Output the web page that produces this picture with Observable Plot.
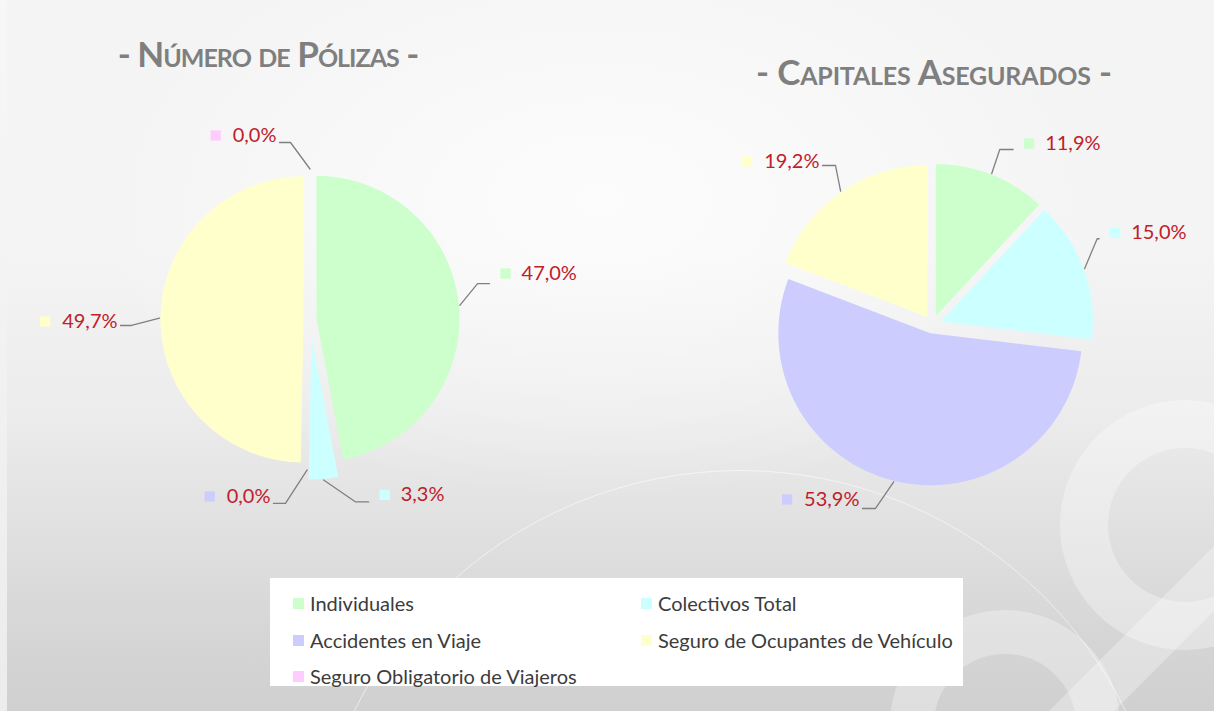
<!DOCTYPE html>
<html>
<head>
<meta charset="utf-8">
<script src="https://cdn.jsdelivr.net/npm/d3@7"></script>
<script src="https://cdn.jsdelivr.net/npm/@observablehq/plot@0.6"></script>
<style>
  html, body { margin: 0; padding: 0; }
  body { width: 1214px; height: 711px; overflow: hidden; font-family: Lato, "Open Sans", sans-serif; }
  #stage {
    position: relative; width: 1214px; height: 711px; overflow: hidden;
    background:
      radial-gradient(ellipse 520px 300px at 600px 200px, rgba(255,255,255,0.75), rgba(255,255,255,0) 100%),
      linear-gradient(to bottom, #f4f4f4 0%, #f4f4f4 35%, #ececec 58%, #e0e0e0 75%, #d5d5d5 90%, #d0d0d0 100%);
  }
  #leftstrip { position: absolute; left: 0; top: 0; width: 7px; height: 711px; background: linear-gradient(to bottom, #f7f7f7, #ececec); }
  .deco { position: absolute; border-radius: 50%; box-sizing: border-box; }
  .band { position: absolute; background: rgba(255,255,255,0.3); transform-origin: 0 0; }
  .title {
    position: absolute; text-align: center; color: #7f7f7f; font-weight: 700;
    font-variant: small-caps; font-size: 35px; line-height: 35px; white-space: nowrap;
  }
  #chart { position: absolute; left: 0; top: 0; }
  #legend { position: absolute; left: 270px; top: 578px; width: 693px; height: 108px; background: #ffffff; }
  .li { position: absolute; display: flex; align-items: center; height: 24px; font-size: 20px; color: #3c3c3c; white-space: nowrap; }
  .li .sw { width: 11px; height: 11px; margin-right: 6px; flex: none; }
</style>
</head>
<body>
<div id="stage">
  <div id="leftstrip"></div>
  <div class="deco" style="left:310px;top:470px;width:860px;height:860px;border:1.5px solid rgba(255,255,255,0.55);"></div>
  <div class="deco" style="left:1060px;top:400px;width:250px;height:250px;border:48px solid rgba(255,255,255,0.32);"></div>
  <div class="deco" style="left:890px;top:610px;width:230px;height:230px;border:44px solid rgba(255,255,255,0.3);"></div>
  <div class="band" style="left:1020px;top:740px;width:300px;height:46px;transform:rotate(-45deg);"></div>
  <div id="t0" class="title"></div>
  <div id="t1" class="title"></div>
  <div id="chart"></div>
  <div id="legend"></div>
</div>
<script>
// ---- data ----
const categories = ["Individuales", "Colectivos Total", "Accidentes en Viaje", "Seguro de Ocupantes de Vehículo", "Seguro Obligatorio de Viajeros"];
const colors = ["#ccffcc", "#ccffff", "#ccccff", "#ffffcc", "#ffccff"];
const polizasPct = [47.0, 3.3, 0.0, 49.7, 0.0];
const capitalesPct = [11.9, 15.0, 53.9, 19.2, null];
const titles = ["Número de Pólizas", "Capitales Asegurados"];

// ---- layout (pixels) ----
const W = 1214, H = 711;
const pies = [
  { values: polizasPct, cx: 309.5, cy: 319, r: 143, explode: [6.5, 17, 6.5, 6.5, 6.5],
    // label leader: [elbow dx, elbow dy, horizontal length, text dy]
    labels: [[17.7, -21.8, 12, -10], [32, 22, 13, -7], [-21.7, 33.5, 12, -7], [-28, 7.4, 11, -4], [-19.5, -26.5, 11, -7]] },
  { values: capitalesPct, cx: 932, cy: 324, r: 152, explode: [9, 9, 9, 9, 9],
    labels: [[8.1, -24.2, 13.4, -6], [12.6, -29.9, 2, -6], [-18.2, 26.7, 13, -9], [-5.1, -25.6, 13, -4], null] }
];
const titlePos = [{cx: 268, top: 36, spacing: -1}, {cx: 934, top: 54, spacing: -0.2}];
const fontLabel = "20px Lato";

const canvas = document.createElement("canvas");
const ctx = canvas.getContext("2d");
ctx.font = fontLabel;
const fmt = v => v.toFixed(1).replace(".", ",") + "%";

const slices = [], leaders = [], labels = [];
pies.forEach((p, pi) => {
  const total = d3.sum(p.values.filter(v => v != null));
  let acc = 0;
  p.values.forEach((v, i) => {
    if (v == null) return;
    const a0 = acc / total * 2 * Math.PI;
    acc += v;
    const a1 = acc / total * 2 * Math.PI;
    const m = (a0 + a1) / 2;
    const e = p.explode[i];
    const ox = p.cx + e * Math.sin(m), oy = p.cy - e * Math.cos(m);
    const id = pi + "-" + i, cat = categories[i];
    if (v > 0) {
      slices.push({id, cat, x: ox, y: oy});
      const n = Math.max(2, Math.ceil((a1 - a0) / (Math.PI / 180)));
      for (let k = 0; k <= n; k++) {
        const a = a0 + (a1 - a0) * k / n;
        slices.push({id, cat, x: ox + p.r * Math.sin(a), y: oy - p.r * Math.cos(a)});
      }
    }
    const L = p.labels[i];
    if (!L) return;
    const ax = ox + (p.r + 1) * Math.sin(m), ay = oy - (p.r + 1) * Math.cos(m);
    const side = L[0] >= 0 ? 1 : -1;
    const ex = ax + L[0], ey = ay + L[1];
    const endx = ex + side * L[2];
    leaders.push({id, x: ax, y: ay}, {id, x: ex, y: ey}, {id, x: endx, y: ey});
    const text = fmt(v);
    const w = ctx.measureText(text).width;
    let tx, mx;
    if (side > 0) { mx = endx + 16; tx = endx + 32; }
    else { tx = endx - 3 - w; mx = tx - 17; }
    labels.push({cat, text, tx, mx, ty: ey + L[3]});
  });
});

const chart = Plot.plot({
  width: W, height: H, margin: 0,
  x: {domain: [0, W], range: [0, W], axis: null},
  y: {domain: [0, H], range: [0, H], axis: null},
  color: {domain: categories, range: colors},
  style: {background: "transparent", fontFamily: "Lato, sans-serif", overflow: "visible"},
  marks: [
    Plot.line(slices, {x: "x", y: "y", z: "id", fill: "cat", stroke: "none", curve: "linear-closed"}),
    Plot.line(leaders, {x: "x", y: "y", z: "id", stroke: "#808080", strokeWidth: 1.3}),
    Plot.dot(labels, {x: "mx", y: "ty", fill: "cat", symbol: "square", r: 5.8, stroke: "none"}),
    Plot.text(labels, {x: "tx", y: "ty", text: "text", textAnchor: "start", fill: "#c0202a", fontSize: 20})
  ]
});
document.getElementById("chart").appendChild(chart);

// titles
titles.forEach((t, i) => {
  const el = document.getElementById("t" + i);
  el.textContent = "- " + t + " -";
  el.style.top = titlePos[i].top + "px";
  el.style.left = (titlePos[i].cx - 300) + "px";
  el.style.width = "600px";
  el.style.letterSpacing = titlePos[i].spacing + "px";
});

// legend
const legend = document.getElementById("legend");
const rowY = [25, 62, 98], colX = [23, 371];
categories.forEach((c, i) => {
  const item = document.createElement("div");
  item.className = "li";
  item.style.left = colX[i % 2] + "px";
  item.style.top = (rowY[Math.floor(i / 2)] - 12) + "px";
  const sw = document.createElement("span");
  sw.className = "sw";
  sw.style.background = colors[i];
  const tx = document.createElement("span");
  tx.textContent = c;
  item.appendChild(sw); item.appendChild(tx);
  legend.appendChild(item);
});
</script>
</body>
</html>
